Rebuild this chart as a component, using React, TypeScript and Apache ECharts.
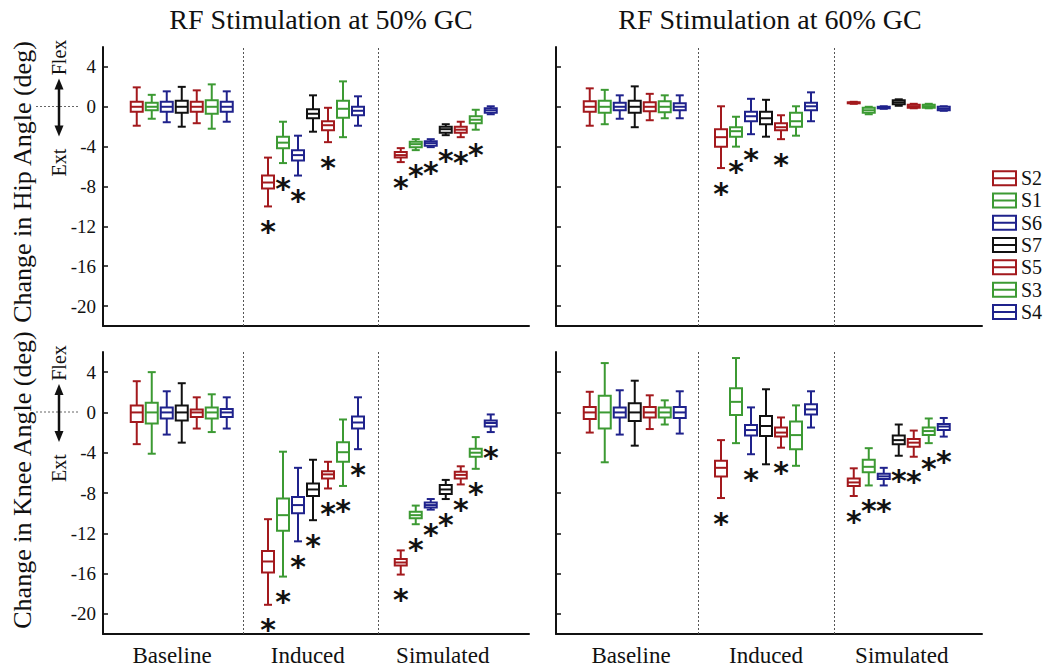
import React, { useEffect, useRef } from "react";
import * as echarts from "echarts";

// ---------- data ----------
const SUBJECTS = ["S2", "S1", "S6", "S7", "S5", "S3", "S4"];
const SUBJECT_COLORS = ["#a3191d", "#3c9a33", "#1f228c", "#111111", "#a3191d", "#3c9a33", "#1f228c"];
const CONDITIONS = ["Baseline", "Induced", "Simulated"];
const COLUMN_TITLES = ["RF Stimulation at 50% GC", "RF Stimulation at 60% GC"];
const ROW_TITLES = ["Change in Hip Angle (deg)", "Change in Knee Angle (deg)"];
const Y_TICKS = [4, 0, -4, -8, -12, -16, -20];

// five-number summaries [min, q1, median, q3, max], one per subject (S2,S1,S6,S7,S5,S3,S4)
const HIP50_BASELINE = [
  [-1.9, -0.5, 0, 0.5, 1.95], [-1.2, -0.35, 0, 0.4, 1.2], [-1.55, -0.5, 0, 0.5, 1.55], [-2.0, -0.6, 0, 0.6, 2.0],
  [-1.65, -0.5, 0, 0.5, 1.65], [-2.2, -0.7, 0, 0.65, 2.25], [-1.5, -0.5, 0, 0.5, 1.55],
];
const HIP50_INDUCED = [
  [-10.0, -8.2, -7.6, -6.9, -5.1], [-5.65, -4.15, -3.6, -3.0, -1.5], [-6.9, -5.4, -4.85, -4.35, -2.9], [-2.5, -1.15, -0.7, -0.25, 1.15],
  [-3.55, -2.35, -1.85, -1.45, -0.1], [-3.05, -1.1, -0.2, 0.6, 2.55], [-1.9, -0.85, -0.4, 0.0, 1.05],
];
const HIP50_SIMULATED = [
  [-5.55, -5.1, -4.85, -4.55, -4.15], [-4.35, -4.05, -3.75, -3.5, -3.25], [-4.05, -3.9, -3.65, -3.45, -3.25], [-2.85, -2.6, -2.25, -2.0, -1.75],
  [-3.05, -2.6, -2.3, -2.0, -1.5], [-2.3, -1.65, -1.3, -0.95, -0.3], [-0.75, -0.6, -0.35, -0.15, 0.05],
];
const HIP60_BASELINE = [
  [-1.9, -0.5, 0, 0.55, 1.85], [-1.75, -0.6, 0, 0.6, 1.7], [-1.2, -0.35, 0, 0.4, 1.15], [-2.05, -0.6, 0, 0.6, 2.05],
  [-1.35, -0.45, 0, 0.45, 1.3], [-1.15, -0.55, 0, 0.55, 1.15], [-1.15, -0.35, 0, 0.35, 1.15],
];
const HIP60_INDUCED = [
  [-6.15, -4.0, -3.05, -2.25, 0.05], [-4.0, -3.0, -2.45, -2.05, -1.0], [-2.75, -1.45, -0.95, -0.5, 0.8], [-3.0, -1.75, -1.15, -0.5, 0.7],
  [-3.25, -2.35, -2.05, -1.65, -0.85], [-2.9, -2.0, -1.45, -0.6, 0.05], [-1.45, -0.35, 0.05, 0.4, 1.45],
];
const HIP60_SIMULATED = [
  [0.3, 0.35, 0.4, 0.45, 0.5], [-0.75, -0.6, -0.35, -0.1, 0.0], [-0.2, -0.15, -0.08, 0.0, 0.05], [0.1, 0.25, 0.45, 0.65, 0.75],
  [-0.15, -0.1, 0.05, 0.2, 0.3], [-0.15, -0.1, 0.05, 0.2, 0.3], [-0.4, -0.35, -0.2, 0.0, 0.05],
];
const KNEE50_BASELINE = [
  [-3.15, -0.95, 0, 0.7, 3.1], [-4.1, -1.1, 0, 0.95, 4.0], [-2.2, -0.6, 0, 0.5, 2.1], [-3.0, -0.8, 0, 0.7, 2.9],
  [-1.6, -0.45, 0, 0.3, 1.5], [-1.95, -0.6, 0, 0.5, 1.8], [-1.6, -0.45, 0, 0.35, 1.5],
];
const KNEE50_INDUCED = [
  [-19.1, -15.9, -14.8, -13.75, -10.6], [-16.3, -11.75, -10.2, -8.55, -3.9], [-12.8, -10.0, -9.2, -8.4, -5.5], [-10.7, -8.3, -7.65, -7.05, -4.7],
  [-7.55, -6.55, -6.15, -5.85, -4.9], [-7.3, -4.9, -3.95, -2.95, -0.7], [-3.65, -1.6, -1.0, -0.4, 1.5],
];
const KNEE50_SIMULATED = [
  [-16.1, -15.2, -14.9, -14.55, -13.7], [-11.1, -10.5, -10.2, -9.85, -9.25], [-9.65, -9.45, -9.2, -8.95, -8.6], [-8.6, -8.1, -7.65, -7.2, -6.7],
  [-7.15, -6.55, -6.2, -5.9, -5.35], [-5.6, -4.4, -4.0, -3.6, -2.45], [-1.95, -1.4, -1.05, -0.8, -0.2],
];
const KNEE60_BASELINE = [
  [-2.0, -0.65, 0, 0.55, 2.05], [-4.95, -1.6, 0, 1.65, 4.9], [-2.2, -0.5, 0, 0.5, 2.2], [-3.3, -0.85, 0, 0.9, 3.15],
  [-1.65, -0.5, 0, 0.55, 1.7], [-1.2, -0.5, 0, 0.5, 1.2], [-2.1, -0.55, 0, 0.55, 2.1],
];
const KNEE60_INDUCED = [
  [-8.5, -6.35, -5.5, -4.8, -2.75], [-3.05, -0.25, 1.05, 2.4, 5.4], [-4.15, -2.3, -1.75, -1.25, 0.5], [-5.15, -2.35, -1.35, -0.35, 2.3],
  [-3.5, -2.4, -2.0, -1.5, -0.5], [-5.3, -3.65, -2.25, -0.9, 0.7], [-1.5, -0.2, 0.3, 0.8, 2.1],
];
const KNEE60_SIMULATED = [
  [-8.3, -7.3, -6.95, -6.55, -5.55], [-7.25, -5.95, -5.4, -4.7, -3.55], [-7.25, -6.6, -6.35, -6.1, -5.5], [-4.3, -3.15, -2.75, -2.3, -1.2],
  [-4.4, -3.4, -3.0, -2.65, -1.8], [-3.05, -2.25, -1.85, -1.5, -0.6], [-2.4, -1.75, -1.4, -1.15, -0.55],
];

// significance (asterisk) flags per subject
const NONE_SIG = [0, 0, 0, 0, 0, 0, 0];
const HIP50_SIG = [NONE_SIG, [1, 1, 1, 0, 1, 0, 0], [1, 1, 1, 1, 1, 1, 0]];
const HIP60_SIG = [NONE_SIG, [1, 1, 1, 0, 1, 0, 0], NONE_SIG];
const KNEE50_SIG = [NONE_SIG, [1, 1, 1, 1, 1, 1, 1], [1, 1, 1, 1, 1, 1, 1]];
const KNEE60_SIG = [NONE_SIG, [1, 0, 1, 0, 1, 0, 0], [1, 1, 1, 1, 1, 1, 1]];

const PANELS = [
  { stats: [HIP50_BASELINE, HIP50_INDUCED, HIP50_SIMULATED], sig: HIP50_SIG },
  { stats: [HIP60_BASELINE, HIP60_INDUCED, HIP60_SIMULATED], sig: HIP60_SIG },
  { stats: [KNEE50_BASELINE, KNEE50_INDUCED, KNEE50_SIMULATED], sig: KNEE50_SIG },
  { stats: [KNEE60_BASELINE, KNEE60_INDUCED, KNEE60_SIMULATED], sig: KNEE60_SIG },
];

// ---------- layout ----------
const SERIF = '"Liberation Serif", "Times New Roman", serif';
const GRID_LEFT = [103, 556];
const GRID_TOP = [47, 352];
const GRID_HEIGHT = [279, 282];
const GRID_WIDTH = 426;
const X_MAX = 28.4;
const GROUP_CENTER = [5.25, 14.0, 22.85];
const DIVIDERS = [[9.33, 18.33], [9.5, 18.55]];
const LABEL_POS = [[4.6, 13.65, 22.65], [5.0, 14.0, 23.05]];
const BOX_W = 12;
const CAP_W = 8;
const LINE_W = 2;
const STAR_GAP = 18;

function makeRenderItem(color: string) {
  return (params: any, api: any) => {
    const x = api.value(0);
    const yMin = api.coord([x, api.value(1)])[1];
    const yQ1 = api.coord([x, api.value(2)])[1];
    const yMed = api.coord([x, api.value(3)])[1];
    const yQ3 = api.coord([x, api.value(4)])[1];
    const yMax = api.coord([x, api.value(5)])[1];
    const cx = api.coord([x, 0])[0];
    const sig = api.value(6);
    const st = { stroke: color, lineWidth: LINE_W, fill: null };
    const hw = BOX_W / 2;
    const cw = CAP_W / 2;
    const children: any[] = [
      { type: "line", shape: { x1: cx, y1: yMax, x2: cx, y2: yQ3 }, style: st },
      { type: "line", shape: { x1: cx, y1: yQ1, x2: cx, y2: yMin }, style: st },
      { type: "line", shape: { x1: cx - cw, y1: yMax, x2: cx + cw, y2: yMax }, style: st },
      { type: "line", shape: { x1: cx - cw, y1: yMin, x2: cx + cw, y2: yMin }, style: st },
      { type: "rect", shape: { x: cx - hw, y: yQ3, width: hw * 2, height: Math.max(yQ1 - yQ3, 1) }, style: { stroke: color, lineWidth: LINE_W, fill: "#ffffff" } },
      { type: "line", shape: { x1: cx - hw, y1: yMed, x2: cx + hw, y2: yMed }, style: st },
    ];
    if (sig) {
      children.push({
        type: "text",
        x: cx,
        y: yMin + STAR_GAP + 7,
        style: { text: "*", fill: "#111111", font: 'bold 30px "DejaVu Sans"', align: "center", verticalAlign: "middle" },
      });
    }
    return { type: "group", children };
  };
}

function buildOption() {
  const grid: any[] = [];
  const xAxis: any[] = [];
  const yAxis: any[] = [];
  const series: any[] = [];
  PANELS.forEach((panel, p) => {
    const row = Math.floor(p / 2);
    const col = p % 2;
    grid.push({ left: GRID_LEFT[col], top: GRID_TOP[row], width: GRID_WIDTH, height: GRID_HEIGHT[row], containLabel: false });
    xAxis.push({
      type: "value",
      gridIndex: p,
      min: 0,
      max: X_MAX,
      splitLine: { show: false },
      axisTick: { show: false },
      axisLine: { show: true, onZero: false, lineStyle: { color: "#111", width: 2 } },
      axisLabel: {
        show: row === 1,
        customValues: LABEL_POS[col],
        formatter: (v: number) => {
          const i = LABEL_POS[col].findIndex((q) => Math.abs(q - v) < 0.01);
          return i >= 0 ? CONDITIONS[i] : "";
        },
        fontFamily: SERIF,
        fontSize: 23,
        color: "#111",
        margin: 10,
      },
    });
    yAxis.push({
      type: "value",
      gridIndex: p,
      min: -22,
      max: 6,
      splitLine: { show: false },
      axisLine: { show: true, onZero: false, lineStyle: { color: "#111", width: 2 } },
      axisTick: { show: true, inside: true, length: 5, customValues: Y_TICKS, lineStyle: { color: "#111", width: 1.5 } },
      axisLabel: {
        show: col === 0,
        customValues: Y_TICKS,
        fontFamily: SERIF,
        fontSize: 19,
        color: "#111",
        margin: 7,
      },
    });
    SUBJECTS.forEach((name, s) => {
      const data = CONDITIONS.map((_, g) => [
        GROUP_CENTER[g] + (s - 3),
        ...panel.stats[g][s],
        panel.sig[g][s],
      ]);
      const ser: any = {
        type: "custom",
        name,
        xAxisIndex: p,
        yAxisIndex: p,
        data,
        encode: { x: 0, y: [1, 2, 3, 4, 5] },
        itemStyle: { color: SUBJECT_COLORS[s], borderColor: SUBJECT_COLORS[s] },
        renderItem: makeRenderItem(SUBJECT_COLORS[s]),
        silent: true,
        z: 3,
      };
      if (s === 0) {
        ser.markLine = {
          silent: true,
          symbol: "none",
          label: { show: false },
          lineStyle: { color: "#555", type: [2, 2], width: 1 },
          data: DIVIDERS[col].map((d) => ({ xAxis: d })),
          z: 1,
        };
      }
      series.push(ser);
    });
  });

  const annotation = (zeroY: number) => [
    { type: "line", shape: { x1: 36, y1: zeroY, x2: 79, y2: zeroY }, style: { stroke: "#666", lineWidth: 1, lineDash: [2, 2] } },
    { type: "line", shape: { x1: 59, y1: zeroY - 19, x2: 59, y2: zeroY + 21 }, style: { stroke: "#111", lineWidth: 2.5 } },
    { type: "polygon", shape: { points: [[59, zeroY - 28], [54.5, zeroY - 17], [63.5, zeroY - 17]] }, style: { fill: "#111" } },
    { type: "polygon", shape: { points: [[59, zeroY + 30], [54.5, zeroY + 19], [63.5, zeroY + 19]] }, style: { fill: "#111" } },
    { type: "text", x: 59, y: zeroY - 49, rotation: Math.PI / 2, style: { text: "Flex", font: `20px ${SERIF}`, fill: "#111", align: "center", verticalAlign: "middle" } },
    { type: "text", x: 59, y: zeroY + 56, rotation: Math.PI / 2, style: { text: "Ext", font: `20px ${SERIF}`, fill: "#111", align: "center", verticalAlign: "middle" } },
  ];

  return {
    animation: false,
    backgroundColor: "#ffffff",
    title: COLUMN_TITLES.map((t, i) => ({
      text: t,
      left: [316, 765][i],
      top: 0,
      textAlign: "center",
      textStyle: { fontFamily: SERIF, fontSize: 28, fontWeight: "normal", color: "#111" },
    })),
    legend: {
      orient: "vertical",
      left: 987,
      top: 162,
      itemWidth: 23,
      itemHeight: 14,
      itemGap: 0,
      icon: "path://M0,0H23V14H0Z M0,7H23",
      itemStyle: { color: "#ffffff", borderColor: "inherit", borderWidth: 2 },
      textStyle: { fontFamily: SERIF, fontSize: 20, color: "#111", lineHeight: 22.3 },
      selectedMode: false,
      data: SUBJECTS,
    },
    grid,
    xAxis,
    yAxis,
    series,
    graphic: [
      { type: "text", x: 22, y: 182, rotation: Math.PI / 2, style: { text: ROW_TITLES[0], font: `26px ${SERIF}`, fill: "#111", align: "center", verticalAlign: "middle" } },
      { type: "text", x: 22, y: 480, rotation: Math.PI / 2, style: { text: ROW_TITLES[1], font: `26px ${SERIF}`, fill: "#111", align: "center", verticalAlign: "middle" } },
      ...annotation(106.5),
      ...annotation(412),
    ],
  };
}

export default function App() {
  const ref = useRef<HTMLDivElement>(null);
  useEffect(() => {
    if (!ref.current) return;
    const chart = echarts.init(ref.current, undefined, { renderer: "svg" });
    chart.setOption(buildOption() as any);
    return () => chart.dispose();
  }, []);
  return <div ref={ref} style={{ position: "fixed", left: 0, top: 0, width: 1050, height: 672, background: "#fff" }} />;
}
